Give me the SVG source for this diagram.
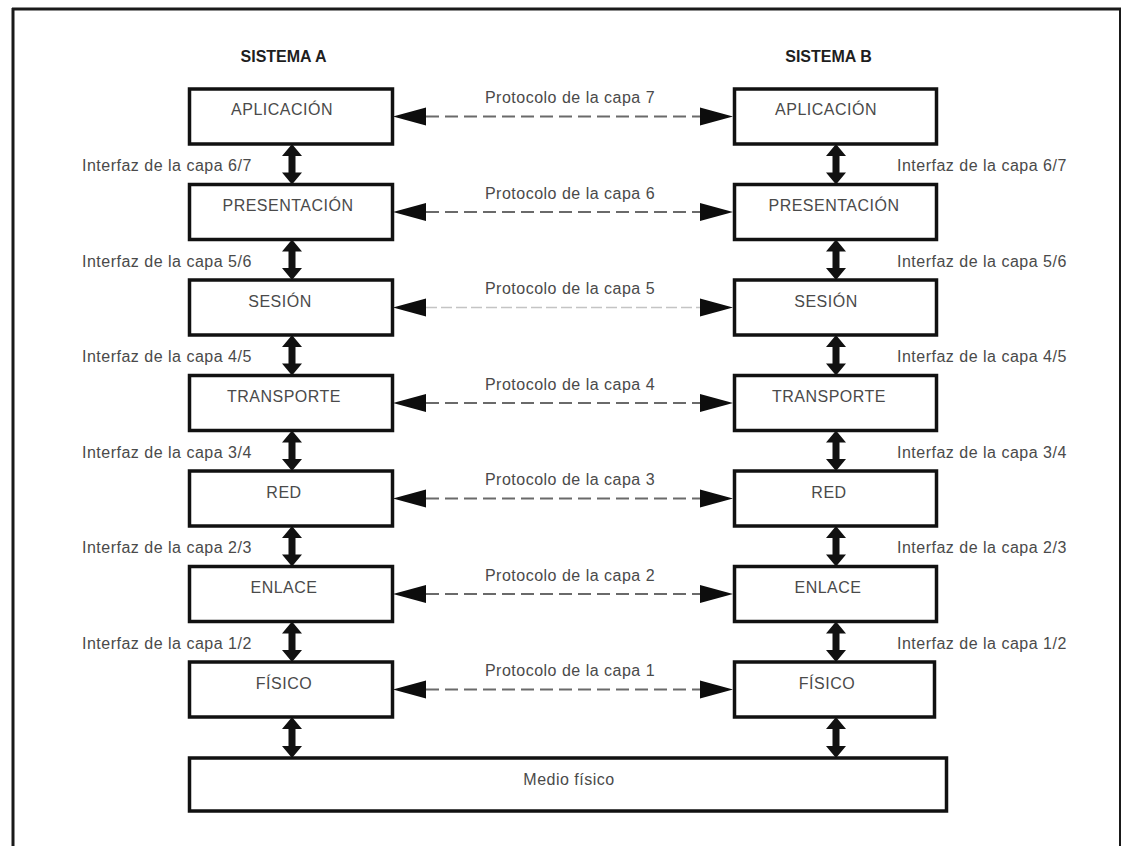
<svg xmlns="http://www.w3.org/2000/svg" width="1128" height="846" viewBox="0 0 1128 846">
  <style>
    .frame { fill: none; stroke: #1a1a1a; }
    .box { fill: #ffffff; stroke: #111111; stroke-width: 3.5; }
    .lbl { font-family: "Liberation Sans", Arial, sans-serif; font-size: 16px; fill: #4a4a4a; letter-spacing: 0.5px; }
    .mid { text-anchor: middle; }
    .title { font-family: "Liberation Sans", Arial, sans-serif; font-size: 16px; font-weight: bold; fill: #1e1e1e; text-anchor: middle; }
    .dash { stroke: #6a6a6a; stroke-width: 2; stroke-dasharray: 13 6; fill: none; }
    .dash-faint { stroke: #c4c4c4; stroke-width: 1.6; stroke-dasharray: 11 4; fill: none; }
    .head { fill: #0d0d0d; }
    .vert { fill: #111111; }
  </style>
  <defs>
    <!-- solid arrowheads for the peer-to-peer protocol lines -->
    <path id="headL" d="M0,0 L33,-9 L33,9 Z"/>
    <path id="headR" d="M0,0 L-33,-9 L-33,9 Z"/>
    <!-- double-headed interface arrow, centred on x=0 -->
    <path id="ifArrow" d="M0,0 L10,12 L3.5,12 L3.5,28.5 L10,28.5 L0,40.5 L-10,28.5 L-3.5,28.5 L-3.5,12 L-10,12 Z"/>
    <path id="ifArrowLong" d="M0,0 L10,12 L3.5,12 L3.5,29 L10,29 L0,41 L-10,29 L-3.5,29 L-3.5,12 L-10,12 Z"/>
  </defs>

  <rect x="0" y="0" width="1128" height="846" fill="#ffffff"/>

  <!-- outer frame -->
  <g id="frame">
    <line class="frame" x1="12" y1="9" x2="1121" y2="9" stroke-width="3"/>
    <line class="frame" x1="13" y1="8" x2="13" y2="846" stroke-width="3"/>
    <line class="frame" x1="1120" y1="8" x2="1120" y2="846" stroke-width="2"/>
  </g>

  <!-- column titles -->
  <g id="titles">
    <text class="title" x="283.5" y="62">SISTEMA A</text>
    <text class="title" x="828.5" y="62">SISTEMA B</text>
  </g>

  <!-- connectors: protocols between peer layers and interfaces between adjacent layers -->
  <g id="connectors">
    <!-- capa 7 -->
    <line class="dash" x1="426" y1="116.5" x2="700" y2="116.5"/>
    <use href="#headL" class="head" x="393" y="116.5"/>
    <use href="#headR" class="head" x="733" y="116.5"/>
    <!-- capa 6 -->
    <line class="dash" x1="426" y1="212" x2="700" y2="212"/>
    <use href="#headL" class="head" x="393" y="212"/>
    <use href="#headR" class="head" x="733" y="212"/>
    <!-- capa 5 -->
    <line class="dash-faint" x1="426" y1="307.5" x2="700" y2="307.5"/>
    <use href="#headL" class="head" x="393" y="307.5"/>
    <use href="#headR" class="head" x="733" y="307.5"/>
    <!-- capa 4 -->
    <line class="dash" x1="426" y1="403" x2="700" y2="403"/>
    <use href="#headL" class="head" x="393" y="403"/>
    <use href="#headR" class="head" x="733" y="403"/>
    <!-- capa 3 -->
    <line class="dash" x1="426" y1="498.5" x2="700" y2="498.5"/>
    <use href="#headL" class="head" x="393" y="498.5"/>
    <use href="#headR" class="head" x="733" y="498.5"/>
    <!-- capa 2 -->
    <line class="dash" x1="426" y1="594" x2="700" y2="594"/>
    <use href="#headL" class="head" x="393" y="594"/>
    <use href="#headR" class="head" x="733" y="594"/>
    <!-- capa 1 -->
    <line class="dash" x1="426" y1="689.5" x2="700" y2="689.5"/>
    <use href="#headL" class="head" x="393" y="689.5"/>
    <use href="#headR" class="head" x="733" y="689.5"/>

    <!-- interface arrows, sistema A -->
    <use href="#ifArrow" class="vert" x="292" y="144"/>
    <use href="#ifArrow" class="vert" x="292" y="239.5"/>
    <use href="#ifArrow" class="vert" x="292" y="335"/>
    <use href="#ifArrow" class="vert" x="292" y="430.5"/>
    <use href="#ifArrow" class="vert" x="292" y="526"/>
    <use href="#ifArrow" class="vert" x="292" y="621.5"/>
    <use href="#ifArrowLong" class="vert" x="292" y="717"/>
    <!-- interface arrows, sistema B -->
    <use href="#ifArrow" class="vert" x="836" y="144"/>
    <use href="#ifArrow" class="vert" x="836" y="239.5"/>
    <use href="#ifArrow" class="vert" x="836" y="335"/>
    <use href="#ifArrow" class="vert" x="836" y="430.5"/>
    <use href="#ifArrow" class="vert" x="836" y="526"/>
    <use href="#ifArrow" class="vert" x="836" y="621.5"/>
    <use href="#ifArrowLong" class="vert" x="836" y="717"/>

    <!-- protocol labels -->
    <text class="lbl mid" x="570" y="103">Protocolo de la capa 7</text>
    <text class="lbl mid" x="570" y="198.5">Protocolo de la capa 6</text>
    <text class="lbl mid" x="570" y="294">Protocolo de la capa 5</text>
    <text class="lbl mid" x="570" y="389.5">Protocolo de la capa 4</text>
    <text class="lbl mid" x="570" y="485">Protocolo de la capa 3</text>
    <text class="lbl mid" x="570" y="580.5">Protocolo de la capa 2</text>
    <text class="lbl mid" x="570" y="676">Protocolo de la capa 1</text>

    <!-- interface labels, sistema A -->
    <text class="lbl" x="82" y="171">Interfaz de la capa 6/7</text>
    <text class="lbl" x="82" y="266.5">Interfaz de la capa 5/6</text>
    <text class="lbl" x="82" y="362">Interfaz de la capa 4/5</text>
    <text class="lbl" x="82" y="457.5">Interfaz de la capa 3/4</text>
    <text class="lbl" x="82" y="553">Interfaz de la capa 2/3</text>
    <text class="lbl" x="82" y="648.5">Interfaz de la capa 1/2</text>
    <!-- interface labels, sistema B -->
    <text class="lbl" x="897" y="171">Interfaz de la capa 6/7</text>
    <text class="lbl" x="897" y="266.5">Interfaz de la capa 5/6</text>
    <text class="lbl" x="897" y="362">Interfaz de la capa 4/5</text>
    <text class="lbl" x="897" y="457.5">Interfaz de la capa 3/4</text>
    <text class="lbl" x="897" y="553">Interfaz de la capa 2/3</text>
    <text class="lbl" x="897" y="648.5">Interfaz de la capa 1/2</text>
  </g>

  <!-- sistema A layers -->
  <g id="a-aplicacion"><rect class="box" x="189.5" y="89" width="203" height="55"/><text class="lbl mid" x="282" y="115">APLICACIÓN</text></g>
  <g id="a-presentacion"><rect class="box" x="189.5" y="184.5" width="203" height="55"/><text class="lbl mid" x="288" y="211">PRESENTACIÓN</text></g>
  <g id="a-sesion"><rect class="box" x="189.5" y="280" width="203" height="55"/><text class="lbl mid" x="280" y="306.5">SESIÓN</text></g>
  <g id="a-transporte"><rect class="box" x="189.5" y="375.5" width="203" height="55"/><text class="lbl mid" x="284" y="402">TRANSPORTE</text></g>
  <g id="a-red"><rect class="box" x="189.5" y="471" width="203" height="55"/><text class="lbl mid" x="284" y="497.5">RED</text></g>
  <g id="a-enlace"><rect class="box" x="189.5" y="566.5" width="203" height="55"/><text class="lbl mid" x="284" y="593">ENLACE</text></g>
  <g id="a-fisico"><rect class="box" x="189.5" y="662" width="203" height="55"/><text class="lbl mid" x="284" y="688.5">FÍSICO</text></g>

  <!-- sistema B layers -->
  <g id="b-aplicacion"><rect class="box" x="734.5" y="89" width="202" height="55"/><text class="lbl mid" x="826" y="115">APLICACIÓN</text></g>
  <g id="b-presentacion"><rect class="box" x="734.5" y="184.5" width="202" height="55"/><text class="lbl mid" x="834" y="211">PRESENTACIÓN</text></g>
  <g id="b-sesion"><rect class="box" x="734.5" y="280" width="202" height="55"/><text class="lbl mid" x="826" y="306.5">SESIÓN</text></g>
  <g id="b-transporte"><rect class="box" x="734.5" y="375.5" width="202" height="55"/><text class="lbl mid" x="829" y="402">TRANSPORTE</text></g>
  <g id="b-red"><rect class="box" x="734.5" y="471" width="202" height="55"/><text class="lbl mid" x="829" y="497.5">RED</text></g>
  <g id="b-enlace"><rect class="box" x="734.5" y="566.5" width="202" height="55"/><text class="lbl mid" x="828" y="593">ENLACE</text></g>
  <g id="b-fisico"><rect class="box" x="734.5" y="662" width="200" height="55"/><text class="lbl mid" x="827" y="688.5">FÍSICO</text></g>

  <!-- shared physical medium -->
  <g id="medio-fisico"><rect class="box" x="189.5" y="758" width="757" height="53"/><text class="lbl mid" x="569" y="785">Medio físico</text></g>
</svg>
